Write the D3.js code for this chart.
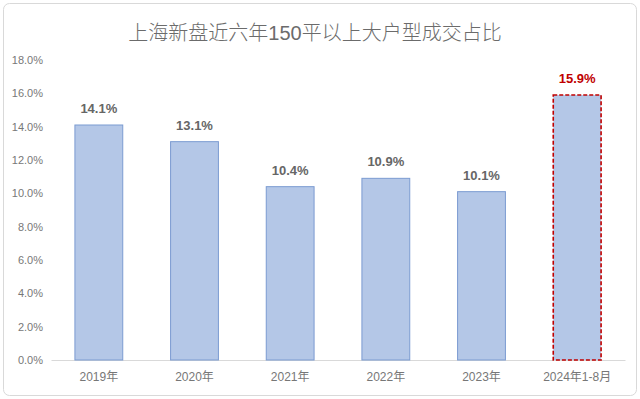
<!DOCTYPE html>
<html>
<head>
<meta charset="utf-8">
<script src="https://cdn.jsdelivr.net/npm/d3@7"></script>
<style>
  body { margin: 0; background: #fff; }
  text { font-family: "Helvetica Neue", "Liberation Sans", Arial, "Noto Sans CJK SC", sans-serif; }
</style>
</head>
<body>
<svg id="chart" width="640" height="399"></svg>
<script>
const categories = ["2019年", "2020年", "2021年", "2022年", "2023年", "2024年1-8月"];
const shares = [14.1, 13.1, 10.4, 10.9, 10.1, 15.9];
const yTicks = [0, 2, 4, 6, 8, 10, 12, 14, 16, 18];
const highlight = "2024年1-8月";

const width = 640, height = 399;
const margin = {top: 60, right: 15, bottom: 39, left: 51};

const svg = d3.select("#chart");

// outer frame
svg.append("rect")
    .attr("x", 3.5).attr("y", 3.5)
    .attr("width", width - 7).attr("height", height - 7)
    .attr("rx", 6)
    .attr("fill", "#fff")
    .attr("stroke", "#d9d9d9");

const x = d3.scaleBand()
    .domain(categories)
    .range([margin.left, width - margin.right])
    .paddingInner(0.5)
    .paddingOuter(0.25);

const y = d3.scaleLinear()
    .domain([0, 18])
    .range([height - margin.bottom, margin.top]);

svg.append("text")
    .attr("x", 315).attr("y", 40)
    .attr("text-anchor", "middle")
    .attr("fill", "#6b6b6b")
    .attr("font-size", 20)
    .attr("font-weight", 300)
    .text("上海新盘近六年150平以上大户型成交占比");

// y axis labels (no line)
const yAxis = svg.append("g")
    .attr("transform", `translate(${margin.left},0)`)
    .call(d3.axisLeft(y).tickValues(yTicks).tickFormat(d => d.toFixed(1) + "%").tickSize(0).tickPadding(8));
yAxis.select(".domain").remove();
yAxis.selectAll("text").attr("fill", "#777").attr("font-size", 11);

// x axis
const xAxis = svg.append("g")
    .attr("transform", `translate(0,${y(0)})`)
    .call(d3.axisBottom(x).tickSize(0).tickPadding(12));
xAxis.select(".domain").attr("stroke", "#d9d9d9");
xAxis.selectAll("text").attr("fill", "#777").attr("font-size", 12);

const bars = svg.append("g").selectAll("g")
    .data(categories.map((c, i) => ({c, v: shares[i]})))
    .join("g");

bars.append("rect")
    .attr("x", d => x(d.c))
    .attr("y", d => y(d.v))
    .attr("width", x.bandwidth())
    .attr("height", d => y(0) - y(d.v))
    .attr("fill", "#b4c7e7")
    .attr("stroke", d => d.c === highlight ? "#c00000" : "#7b9bd1")
    .attr("stroke-width", d => d.c === highlight ? 1.6 : 1)
    .attr("stroke-dasharray", d => d.c === highlight ? "4,2" : null);

bars.append("text")
    .attr("x", d => x(d.c) + x.bandwidth() / 2)
    .attr("y", d => y(d.v) - 12)
    .attr("text-anchor", "middle")
    .attr("font-size", 13)
    .attr("font-weight", "bold")
    .attr("fill", d => d.c === highlight ? "#c00000" : "#666")
    .text(d => d.v.toFixed(1) + "%");
</script>
</body>
</html>
